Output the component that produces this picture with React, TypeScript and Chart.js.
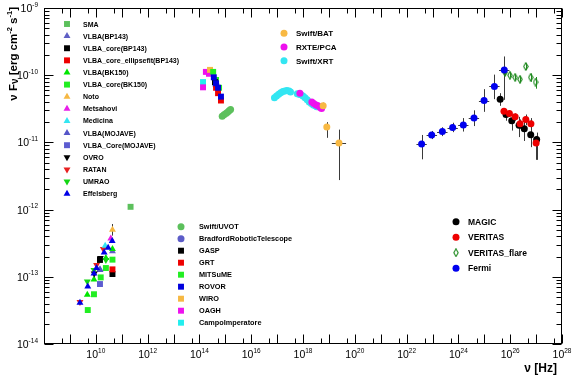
import React, { useEffect, useRef } from 'react';
import { Chart, registerables } from 'chart.js';
Chart.register(...registerables);

// ---------------- axis ranges / tick labels ----------------
const X_MIN = 1e8;
const X_MAX = 1e28;
const Y_MIN = 1e-14;
const Y_MAX = 1e-9;
const X_LABEL_EXPS = [10, 12, 14, 16, 18, 20, 22, 24, 26, 28];
const Y_LABEL_EXPS = [-14, -13, -12, -11, -10, -9];
const X_TITLE = 'ν [Hz]';

// ---------------- data: ν [Hz] and νFν [erg cm^-2 s^-1] ----------------
// radio
const SMA_NU = [2.2e11];
const SMA_F = [1.1e-12];
const VLBA_BP143_NU = [1.45e10, 4.4e10];
const VLBA_BP143_F = [1.3e-13, 2.4e-13];
const VLBA_CORE_BP143_NU = [1.45e10, 4.4e10];
const VLBA_CORE_BP143_F = [1.78e-13, 1.1e-13];
const VLBA_ELL_BP143_NU = [4.4e10];
const VLBA_ELL_BP143_F = [1.29e-13];
const VLBA_BK150_NU = [4.7e9, 8.5e9, 2.45e10, 4.4e10];
const VLBA_BK150_F = [5.4e-14, 9.1e-14, 1.9e-13, 2.6e-13];
const VLBA_CORE_BK150_NU = [4.9e9, 8.5e9, 1.55e10, 2.45e10, 4.4e10];
const VLBA_CORE_BK150_F = [3.2e-14, 5.5e-14, 9.8e-14, 1.35e-13, 1.8e-13];
const NOTO_NU = [4.4e10];
const NOTO_F = [5.0e-13];
const NOTO_FLO = [4.1e-13];
const NOTO_FHI = [6.1e-13];
const METSAHOVI_NU = [3.8e10];
const METSAHOVI_F = [3.7e-13];
const MEDICINA_NU = [2.3e10];
const MEDICINA_F = [2.9e-13];
const MOJAVE_NU = [1.45e10];
const MOJAVE_F = [1.26e-13];
const MOJAVE_CORE_NU = [1.45e10];
const MOJAVE_CORE_F = [7.8e-14];
const OVRO_NU = [8.7e9, 1.5e10];
const OVRO_F = [1.12e-13, 1.9e-13];
const RATAN_NU = [2.45e9, 1.07e10, 1.95e10];
const RATAN_F = [4.2e-14, 1.5e-13, 2.6e-13];
const UMRAO_NU = [4.7e9, 8.5e9, 2.45e10];
const UMRAO_F = [8.5e-14, 1.26e-13, 1.78e-13];
const EFFELSBERG_NU = [2.45e9, 4.9e9, 8.5e9, 1.07e10, 2.1e10, 3.0e10, 4.3e10];
const EFFELSBERG_F = [4.1e-14, 7.2e-14, 1.12e-13, 1.35e-13, 2.3e-13, 2.7e-13, 3.4e-13];

// optical / UV
const UVOT_NU = [7.6e14, 8.9e14, 1.05e15, 1.22e15, 1.4e15, 1.6e15];
const UVOT_F = [2.45e-11, 2.57e-11, 2.69e-11, 2.82e-11, 2.95e-11, 3.1e-11];
const BRADFORD_NU = [4.4e14];
const BRADFORD_F = [7.1e-11];
const GASP_NU = [4.0e14];
const GASP_F = [7.9e-11];
const GRT_NU = [4.4e14, 5.25e14, 6.8e14];
const GRT_F = [6.5e-11, 5.4e-11, 4.2e-11];
const MITSUME_NU = [3.4e14, 4.4e14, 5.75e14];
const MITSUME_F = [1.12e-10, 8.5e-11, 6.5e-11];
const ROVOR_NU = [3.6e14, 4.4e14, 5.25e14, 6.8e14];
const ROVOR_F = [9.3e-11, 7.6e-11, 6.5e-11, 4.8e-11];
const WIRO_NU = [2.57e14];
const WIRO_F = [1.2e-10];
const OAGH_NU = [1.38e14, 1.78e14, 2.34e14];
const OAGH_F = [6.6e-11, 1.12e-10, 1.05e-10];
const CAMPO_NU = [1.38e14];
const CAMPO_F = [7.9e-11];

// X-ray
const XRT_NU = [7.9e16, 9.5e16, 1.15e17, 1.38e17, 1.66e17, 2.0e17, 2.4e17, 2.9e17, 3.3e17,
  6.0e17, 7.1e17, 8.3e17, 1.0e18, 1.2e18, 1.45e18, 1.74e18, 2.1e18, 2.5e18, 3.0e18, 3.4e18];
const XRT_F = [4.6e-11, 4.9e-11, 5.2e-11, 5.5e-11, 5.7e-11, 5.8e-11, 5.9e-11, 5.8e-11, 5.6e-11,
  5.3e-11, 5.2e-11, 5.1e-11, 4.9e-11, 4.6e-11, 4.3e-11, 4.0e-11, 3.8e-11, 3.6e-11, 3.5e-11, 3.4e-11];
const PCA_NU = [7.6e17, 2.2e18, 2.6e18, 3.2e18, 3.8e18, 4.6e18, 5.2e18];
const PCA_F = [5.4e-11, 4.0e-11, 3.8e-11, 3.6e-11, 3.5e-11, 3.3e-11, 3.2e-11];
const BAT_NU = [6.0e18, 8.3e18, 2.45e19];
const BAT_F = [3.5e-11, 1.7e-11, 9.8e-12];
const BAT_FLO = [3.1e-11, 1.17e-11, 2.75e-12];
const BAT_FHI = [3.9e-11, 2.0e-11, 1.55e-11];
const BAT_NULO = [5.5e18, 7.3e18, 1.3e19];
const BAT_NUHI = [6.6e18, 9.5e18, 4.6e19];

// gamma-ray
const MAGIC_NU = [4.1e25, 6.9e25, 1.15e26, 2.2e26, 3.5e26, 6.2e26, 1.05e27];
const MAGIC_F = [4.4e-11, 2.6e-11, 2.1e-11, 1.8e-11, 1.6e-11, 1.3e-11, 1.1e-11];
const MAGIC_FLO = [3.5e-11, 2.1e-11, 1.5e-11, 1.2e-11, 1.05e-11, 8.5e-12, 5.5e-12];
const MAGIC_FHI = [5.4e-11, 3.1e-11, 2.6e-11, 2.4e-11, 2.1e-11, 1.7e-11, 1.4e-11];
const VERITAS_NU = [5.75e25, 9.3e25, 1.55e26, 2.4e26, 4.0e26, 6.3e26, 1.0e27];
const VERITAS_F = [2.9e-11, 2.7e-11, 2.4e-11, 1.9e-11, 2.2e-11, 1.9e-11, 9.8e-12];
const VERITAS_FLO = [2.6e-11, 2.4e-11, 2.1e-11, 1.6e-11, 1.8e-11, 1.5e-11, 5.5e-12];
const VERITAS_FHI = [3.2e-11, 3.0e-11, 2.7e-11, 2.2e-11, 2.6e-11, 2.3e-11, 1.25e-11];
const FLARE_NU = [6.3e25, 9.8e25, 1.55e26, 2.4e26, 4.0e26, 6.2e26, 9.5e26];
const FLARE_F = [1.1e-10, 1.0e-10, 9.3e-11, 8.7e-11, 1.35e-10, 9.3e-11, 7.9e-11];
const FLARE_FLO = [9.8e-11, 9.2e-11, 8.4e-11, 7.8e-11, 1.2e-10, 8.0e-11, 6.3e-11];
const FLARE_FHI = [1.22e-10, 1.1e-10, 1.02e-10, 9.6e-11, 1.5e-10, 1.06e-10, 9.4e-11];
const FERMI_NU = [3.8e22, 9.3e22, 2.4e23, 6.0e23, 1.55e24, 4.0e24, 9.8e24, 2.45e25, 5.9e25];
const FERMI_F = [9.5e-12, 1.29e-11, 1.45e-11, 1.66e-11, 1.82e-11, 2.3e-11, 4.2e-11, 6.8e-11, 1.2e-10];
const FERMI_FLO = [5.6e-12, 1.12e-11, 1.24e-11, 1.42e-11, 1.45e-11, 1.75e-11, 2.85e-11, 4.4e-11, 4.3e-11];
const FERMI_FHI = [1.29e-11, 1.48e-11, 1.68e-11, 1.96e-11, 2.3e-11, 3.0e-11, 6.2e-11, 1.02e-10, 1.9e-10];
const FERMI_NULO = [2.4e22, 5.9e22, 1.5e23, 3.8e23, 9.8e23, 2.5e24, 6.2e24, 1.55e25, 3.7e25];
const FERMI_NUHI = [6.0e22, 1.5e23, 3.8e23, 9.5e23, 2.45e24, 6.3e24, 1.55e25, 3.9e25, 9.3e25];

// ---------------- styles ----------------
type Marker = 'circle' | 'square' | 'tri' | 'triDown' | 'diamond';
interface Series {
  label: string; nu: number[]; f: number[]; m: Marker; c: string;
  fLo?: number[]; fHi?: number[]; nuLo?: number[]; nuHi?: number[]; ec?: string;
}

const S_SMA: Series = { label: 'SMA', nu: SMA_NU, f: SMA_F, m: 'square', c: '#5cc05c' };
const S_VBP: Series = { label: 'VLBA(BP143)', nu: VLBA_BP143_NU, f: VLBA_BP143_F, m: 'tri', c: '#5f5fc4' };
const S_VCBP: Series = { label: 'VLBA_core(BP143)', nu: VLBA_CORE_BP143_NU, f: VLBA_CORE_BP143_F, m: 'square', c: '#000000' };
const S_VEBP: Series = { label: 'VLBA_core_ellipsefit(BP143)', nu: VLBA_ELL_BP143_NU, f: VLBA_ELL_BP143_F, m: 'square', c: '#ee0000' };
const S_VBK: Series = { label: 'VLBA(BK150)', nu: VLBA_BK150_NU, f: VLBA_BK150_F, m: 'tri', c: '#00e600' };
const S_VCBK: Series = { label: 'VLBA_core(BK150)', nu: VLBA_CORE_BK150_NU, f: VLBA_CORE_BK150_F, m: 'square', c: '#22ee22' };
const S_NOTO: Series = { label: 'Noto', nu: NOTO_NU, f: NOTO_F, m: 'tri', c: '#f6b843', fLo: NOTO_FLO, fHi: NOTO_FHI };
const S_METS: Series = { label: 'Metsahovi', nu: METSAHOVI_NU, f: METSAHOVI_F, m: 'tri', c: '#e81ee8' };
const S_MEDI: Series = { label: 'Medicina', nu: MEDICINA_NU, f: MEDICINA_F, m: 'tri', c: '#33e6f2' };
const S_MOJ: Series = { label: 'VLBA(MOJAVE)', nu: MOJAVE_NU, f: MOJAVE_F, m: 'tri', c: '#5555c8' };
const S_MOJC: Series = { label: 'VLBA_Core(MOJAVE)', nu: MOJAVE_CORE_NU, f: MOJAVE_CORE_F, m: 'square', c: '#5c5cd0' };
const S_OVRO: Series = { label: 'OVRO', nu: OVRO_NU, f: OVRO_F, m: 'triDown', c: '#000000' };
const S_RATAN: Series = { label: 'RATAN', nu: RATAN_NU, f: RATAN_F, m: 'triDown', c: '#e82020' };
const S_UMRAO: Series = { label: 'UMRAO', nu: UMRAO_NU, f: UMRAO_F, m: 'triDown', c: '#14d614' };
const S_EFF: Series = { label: 'Effelsberg', nu: EFFELSBERG_NU, f: EFFELSBERG_F, m: 'tri', c: '#0000e6' };

const S_UVOT: Series = { label: 'Swift/UVOT', nu: UVOT_NU, f: UVOT_F, m: 'circle', c: '#5cc05c' };
const S_BRAD: Series = { label: 'BradfordRoboticTelescope', nu: BRADFORD_NU, f: BRADFORD_F, m: 'circle', c: '#5c5cc8' };
const S_GASP: Series = { label: 'GASP', nu: GASP_NU, f: GASP_F, m: 'square', c: '#000000' };
const S_GRT: Series = { label: 'GRT', nu: GRT_NU, f: GRT_F, m: 'square', c: '#ee0000' };
const S_MITS: Series = { label: 'MITSuME', nu: MITSUME_NU, f: MITSUME_F, m: 'square', c: '#22ee22' };
const S_ROVOR: Series = { label: 'ROVOR', nu: ROVOR_NU, f: ROVOR_F, m: 'square', c: '#0000dd' };
const S_WIRO: Series = { label: 'WIRO', nu: WIRO_NU, f: WIRO_F, m: 'square', c: '#f6b843' };
const S_OAGH: Series = { label: 'OAGH', nu: OAGH_NU, f: OAGH_F, m: 'square', c: '#ee11ee' };
const S_CAMPO: Series = { label: 'CampoImperatore', nu: CAMPO_NU, f: CAMPO_F, m: 'square', c: '#22eeee' };

const S_BAT: Series = { label: 'Swift/BAT', nu: BAT_NU, f: BAT_F, m: 'circle', c: '#f8b943', fLo: BAT_FLO, fHi: BAT_FHI, nuLo: BAT_NULO, nuHi: BAT_NUHI };
const S_PCA: Series = { label: 'RXTE/PCA', nu: PCA_NU, f: PCA_F, m: 'circle', c: '#ee11ee' };
const S_XRT: Series = { label: 'Swift/XRT', nu: XRT_NU, f: XRT_F, m: 'circle', c: '#33e6f2' };

const S_MAGIC: Series = { label: 'MAGIC', nu: MAGIC_NU, f: MAGIC_F, m: 'circle', c: '#000000', fLo: MAGIC_FLO, fHi: MAGIC_FHI };
const S_VER: Series = { label: 'VERITAS', nu: VERITAS_NU, f: VERITAS_F, m: 'circle', c: '#ee0000', fLo: VERITAS_FLO, fHi: VERITAS_FHI };
const S_FLARE: Series = { label: 'VERITAS_flare', nu: FLARE_NU, f: FLARE_F, m: 'diamond', c: '#1f8a1f', fLo: FLARE_FLO, fHi: FLARE_FHI, ec: '#1f8a1f' };
const S_FERMI: Series = { label: 'Fermi', nu: FERMI_NU, f: FERMI_F, m: 'circle', c: '#0000ee', fLo: FERMI_FLO, fHi: FERMI_FHI, nuLo: FERMI_NULO, nuHi: FERMI_NUHI };

// drawing order (first = bottom)
const DRAW_ORDER: Series[] = [
  S_SMA, S_VBP, S_VCBK, S_VBK, S_MOJC, S_MOJ, S_VCBP, S_VEBP, S_UMRAO, S_RATAN, S_OVRO, S_NOTO, S_METS, S_MEDI, S_EFF,
  S_UVOT, S_BRAD, S_CAMPO, S_OAGH, S_WIRO, S_MITS, S_GASP, S_GRT, S_ROVOR,
  S_XRT, S_PCA, S_BAT,
  S_MAGIC, S_VER, S_FLARE, S_FERMI,
];

const LEGENDS = [
  { x: 67, tx: 83, y0: 24, dy: 12.12, font: 7, items: [S_SMA, S_VBP, S_VCBP, S_VEBP, S_VBK, S_VCBK, S_NOTO, S_METS, S_MEDI, S_MOJ, S_MOJC, S_OVRO, S_RATAN, S_UMRAO, S_EFF] },
  { x: 181, tx: 199, y0: 226.7, dy: 12, font: 7.3, items: [S_UVOT, S_BRAD, S_GASP, S_GRT, S_MITS, S_ROVOR, S_WIRO, S_OAGH, S_CAMPO] },
  { x: 284, tx: 296, y0: 33.3, dy: 13.7, font: 8, items: [S_BAT, S_PCA, S_XRT] },
  { x: 456, tx: 468, y0: 221.7, dy: 15.5, font: 8.5, items: [S_MAGIC, S_VER, S_FLARE, S_FERMI] },
];

const FONT = '"Liberation Sans", Arial, Helvetica, sans-serif';
const R_CIRCLE = 3.5;
const R_SQUARE = 4.2;
const R_TRI = 4;

function makeDiamond(color: string): HTMLCanvasElement {
  const c = document.createElement('canvas');
  c.width = 6; c.height = 9;
  const g = c.getContext('2d')!;
  g.strokeStyle = color; g.lineWidth = 1.1;
  g.beginPath();
  g.moveTo(3, 0.7); g.lineTo(5.2, 4.5); g.lineTo(3, 8.3); g.lineTo(0.8, 4.5); g.closePath();
  g.stroke();
  return c;
}

function drawMarker(ctx: CanvasRenderingContext2D, s: Series, x: number, y: number, diamond: HTMLCanvasElement) {
  ctx.save();
  ctx.fillStyle = s.c;
  ctx.beginPath();
  if (s.m === 'circle') {
    ctx.arc(x, y, R_CIRCLE, 0, Math.PI * 2);
    ctx.fill();
  } else if (s.m === 'square') {
    const h = R_SQUARE * Math.SQRT1_2;
    ctx.rect(x - h, y - h, 2 * h, 2 * h);
    ctx.fill();
  } else if (s.m === 'tri' || s.m === 'triDown') {
    const d = s.m === 'tri' ? 1 : -1;
    const w = R_TRI * Math.sin((2 * Math.PI) / 3);
    ctx.moveTo(x, y - d * R_TRI);
    ctx.lineTo(x + w, y + d * R_TRI / 2);
    ctx.lineTo(x - w, y + d * R_TRI / 2);
    ctx.closePath();
    ctx.fill();
  } else if (s.m === 'diamond') {
    ctx.drawImage(diamond, x - diamond.width / 2, y - diamond.height / 2);
  }
  ctx.restore();
}

type Part = { t: string; size: number; dy: number; bold: boolean };
function richWidth(ctx: CanvasRenderingContext2D, parts: Part[]) {
  let w = 0;
  for (const p of parts) {
    ctx.font = `${p.bold ? 'bold ' : ''}${p.size}px ${FONT}`;
    w += ctx.measureText(p.t).width;
  }
  return w;
}
function drawRich(ctx: CanvasRenderingContext2D, parts: Part[], x: number, y: number) {
  let cx = x;
  for (const p of parts) {
    ctx.font = `${p.bold ? 'bold ' : ''}${p.size}px ${FONT}`;
    ctx.fillText(p.t, cx, y + p.dy);
    cx += ctx.measureText(p.t).width;
  }
}

export default function App() {
  const ref = useRef<HTMLCanvasElement | null>(null);
  useEffect(() => {
    const canvas = ref.current!;
    const diamond = makeDiamond(S_FLARE.c);
    const N = DRAW_ORDER.length;
    const datasets = DRAW_ORDER.map((s, i) => ({
      label: s.label,
      data: s.nu.map((v, j) => ({ x: v, y: s.f[j] })),
      order: N - i,
      pointStyle: (s.m === 'circle' ? 'circle' : s.m === 'square' ? 'rect' : s.m === 'diamond' ? diamond : 'triangle') as any,
      pointRotation: s.m === 'triDown' ? 180 : 0,
      pointRadius: s.m === 'circle' ? R_CIRCLE : s.m === 'square' ? R_SQUARE : R_TRI,
      pointBackgroundColor: s.c,
      pointBorderColor: s.c,
      pointBorderWidth: 0,
      showLine: false,
    }));

    const sedPlugin = {
      id: 'sedDecor',
      beforeDatasetsDraw(chart: any) {
        const ctx: CanvasRenderingContext2D = chart.ctx;
        const xs = chart.scales.x, ys = chart.scales.y;
        const a = chart.chartArea;
        ctx.save();
        ctx.beginPath();
        ctx.rect(a.left, a.top, a.right - a.left, a.bottom - a.top);
        ctx.clip();
        ctx.lineWidth = 1;
        for (const s of DRAW_ORDER) {
          if (!s.fLo && !s.nuLo) continue;
          ctx.strokeStyle = s.ec || '#3a3a3a';
          s.nu.forEach((v, j) => {
            const px = Math.round(xs.getPixelForValue(v)) + 0.5;
            const py = Math.round(ys.getPixelForValue(s.f[j])) + 0.5;
            ctx.beginPath();
            if (s.fLo && s.fHi) {
              ctx.moveTo(px, ys.getPixelForValue(s.fHi[j]));
              ctx.lineTo(px, ys.getPixelForValue(s.fLo[j]));
            }
            if (s.nuLo && s.nuHi) {
              ctx.moveTo(xs.getPixelForValue(s.nuLo[j]), py);
              ctx.lineTo(xs.getPixelForValue(s.nuHi[j]), py);
            }
            ctx.stroke();
          });
        }
        ctx.restore();
      },
      afterDraw(chart: any) {
        const ctx: CanvasRenderingContext2D = chart.ctx;
        const xs = chart.scales.x, ys = chart.scales.y;
        const { left, right, top, bottom } = chart.chartArea;
        ctx.save();
        ctx.strokeStyle = '#000';
        ctx.fillStyle = '#000';
        ctx.lineWidth = 1;
        const L = Math.round(left) + 0.5, R = Math.round(right) - 0.5;
        const T = Math.round(top) + 0.5, B = Math.round(bottom) - 0.5;
        ctx.strokeRect(L, T, R - L, B - T);
        const line = (x1: number, y1: number, x2: number, y2: number) => {
          ctx.beginPath(); ctx.moveTo(x1, y1); ctx.lineTo(x2, y2); ctx.stroke();
        };
        // x ticks
        const xe0 = Math.round(Math.log10(X_MIN)), xe1 = Math.round(Math.log10(X_MAX));
        for (let k = xe0; k <= xe1; k++) {
          const px = Math.round(xs.getPixelForValue(Number(`1e${k}`))) + 0.5;
          line(px, B, px, B - 9); line(px, T, px, T + 9);
          if (k < xe1) {
            const p5 = Math.round(xs.getPixelForValue(Number(`5e${k}`))) + 0.5;
            line(p5, B, p5, B - 5); line(p5, T, p5, T + 5);
          }
        }
        // y ticks
        const ye0 = Math.round(Math.log10(Y_MIN)), ye1 = Math.round(Math.log10(Y_MAX));
        for (let k = ye0; k <= ye1; k++) {
          const py = Math.round(ys.getPixelForValue(Number(`1e${k}`))) + 0.5;
          line(L, py, L + 9, py); line(R, py, R - 9, py);
          if (k < ye1) {
            for (let m = 2; m <= 9; m++) {
              const pm = Math.round(ys.getPixelForValue(Number(`${m}e${k}`))) + 0.5;
              line(L, pm, L + 5, pm); line(R, pm, R - 5, pm);
            }
          }
        }
        // tick labels
        ctx.textAlign = 'left';
        ctx.textBaseline = 'alphabetic';
        for (const k of Y_LABEL_EXPS) {
          const py = ys.getPixelForValue(Number(`1e${k}`));
          const parts: Part[] = [
            { t: '10', size: 10.5, dy: 0, bold: false },
            { t: String(k), size: 6.5, dy: -5.5, bold: false },
          ];
          const w = richWidth(ctx, parts);
          drawRich(ctx, parts, 38 - w, py + 4);
        }
        for (const k of X_LABEL_EXPS) {
          const px = xs.getPixelForValue(Number(`1e${k}`));
          const parts: Part[] = [
            { t: '10', size: 10.5, dy: 0, bold: false },
            { t: String(k), size: 6.5, dy: -5, bold: false },
          ];
          const w = richWidth(ctx, parts);
          drawRich(ctx, parts, px - w / 2, 358);
        }
        // axis titles
        const xt: Part[] = [{ t: X_TITLE, size: 12, dy: 0, bold: true }];
        drawRich(ctx, xt, 557 - richWidth(ctx, xt), 372);
        const yt: Part[] = [
          { t: 'ν F', size: 11.5, dy: 0, bold: true },
          { t: 'ν', size: 10, dy: 1, bold: true },
          { t: ' [erg cm', size: 11.5, dy: 0, bold: true },
          { t: '-2', size: 7.5, dy: -5, bold: true },
          { t: ' s', size: 11.5, dy: 0, bold: true },
          { t: '-1', size: 7.5, dy: -5, bold: true },
          { t: ']', size: 11.5, dy: 0, bold: true },
        ];
        ctx.save();
        ctx.translate(16.5, 7);
        ctx.rotate(-Math.PI / 2);
        drawRich(ctx, yt, -richWidth(ctx, yt), 0);
        ctx.restore();
        // legends
        for (const lg of LEGENDS) {
          lg.items.forEach((s, i) => {
            const y = lg.y0 + i * lg.dy;
            drawMarker(ctx, s, lg.x, y, diamond);
            ctx.fillStyle = '#000';
            ctx.font = `bold ${lg.font}px ${FONT}`;
            ctx.fillText(s.label, lg.tx, y + lg.font * 0.36);
          });
        }
        ctx.restore();
      },
    };

    const chart = new Chart(canvas, {
      type: 'scatter',
      data: { datasets },
      options: {
        animation: false,
        responsive: false,
        devicePixelRatio: 1,
        layout: { padding: { left: 44, right: 11, top: 8, bottom: 32 } },
        plugins: { legend: { display: false }, tooltip: { enabled: false } },
        scales: {
          x: { type: 'logarithmic', min: X_MIN, max: X_MAX, display: false },
          y: { type: 'logarithmic', min: Y_MIN, max: Y_MAX, display: false },
        },
      },
      plugins: [sedPlugin],
    } as any);
    return () => chart.destroy();
  }, []);
  return (
    <div style={{ position: 'fixed', left: 0, top: 0, width: 573, height: 376, background: '#fff' }}>
      <canvas ref={ref} width={573} height={376} style={{ display: 'block', width: 573, height: 376 }} />
    </div>
  );
}
